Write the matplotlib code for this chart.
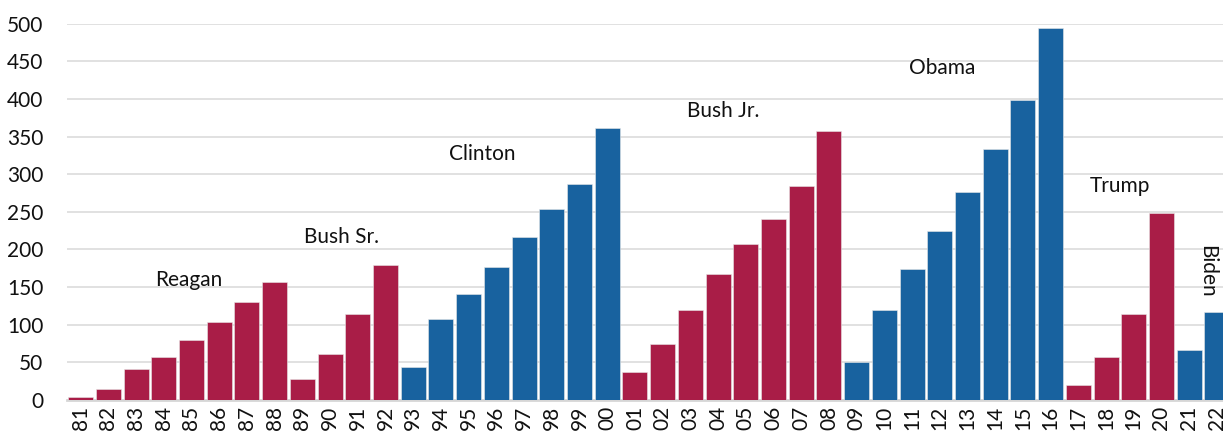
import matplotlib
matplotlib.use("Agg")
import matplotlib.pyplot as plt
import numpy as np

plt.rcParams['font.family'] = ['Lato', 'DejaVu Sans']

years = ['81', '82', '83', '84', '85', '86', '87', '88', '89', '90', '91', '92',
         '93', '94', '95', '96', '97', '98', '99', '00', '01', '02', '03', '04',
         '05', '06', '07', '08', '09', '10', '11', '12', '13', '14', '15', '16',
         '17', '18', '19', '20', '21', '22']
values = [4, 14, 41, 57, 80, 104, 130, 157, 28, 61, 114, 180,
          44, 107, 141, 177, 217, 254, 287, 361, 37, 74, 120, 167,
          207, 240, 284, 357, 50, 120, 174, 224, 277, 334, 398, 494,
          20, 57, 114, 248, 67, 117]
# R = republican, D = democrat
party = ['R'] * 12 + ['D'] * 8 + ['R'] * 8 + ['D'] * 8 + ['R'] * 4 + ['D'] * 2

presidents = ['Reagan', 'Bush Sr.', 'Clinton', 'Bush Jr.', 'Obama', 'Trump', 'Biden']
label_x = [3.9, 9.4, 14.5, 23.2, 31.1, 37.5, 40.65]
label_y = [159, 216, 327, 384, 441, 284, 171]
label_rot = [0, 0, 0, 0, 0, 0, -90]

colors = {'R': '#A91D47', 'D': '#18629F'}

fig = plt.figure(figsize=(12.23, 4.37), dpi=100)
ax = fig.add_axes([0.0548, 0.0847, 0.9452, 0.861])

x = np.arange(len(years))
ax.bar(x, values, width=0.9, color=[colors[p] for p in party],
       edgecolor='#e8e8e8', linewidth=0.4, zorder=3)

for name, lx, ly, rot in zip(presidents, label_x, label_y, label_rot):
    ax.text(lx, ly, name, ha='center', va='center', rotation=rot,
            fontsize=15, color='#111111', zorder=4)

ax.set_xlim(-0.49, 41.22)
ax.set_ylim(0, 500)
ax.set_yticks(range(0, 501, 50))
ax.set_xticks(x)
ax.set_xticklabels(years, rotation=90)
ax.tick_params(axis='y', length=0, pad=17, labelsize=15, labelcolor='#111111')
ax.tick_params(axis='x', length=0, pad=4, labelsize=15, labelcolor='#111111')

ax.yaxis.grid(True, color='#dcdcdc', linewidth=1.2, zorder=0)
ax.set_axisbelow(True)
for s in ['top', 'right', 'left']:
    ax.spines[s].set_visible(False)
ax.spines['bottom'].set_color('#d6d6d6')
ax.spines['bottom'].set_linewidth(2)
ax.spines['bottom'].set_zorder(2)

fig.savefig('out.png', dpi=100)
